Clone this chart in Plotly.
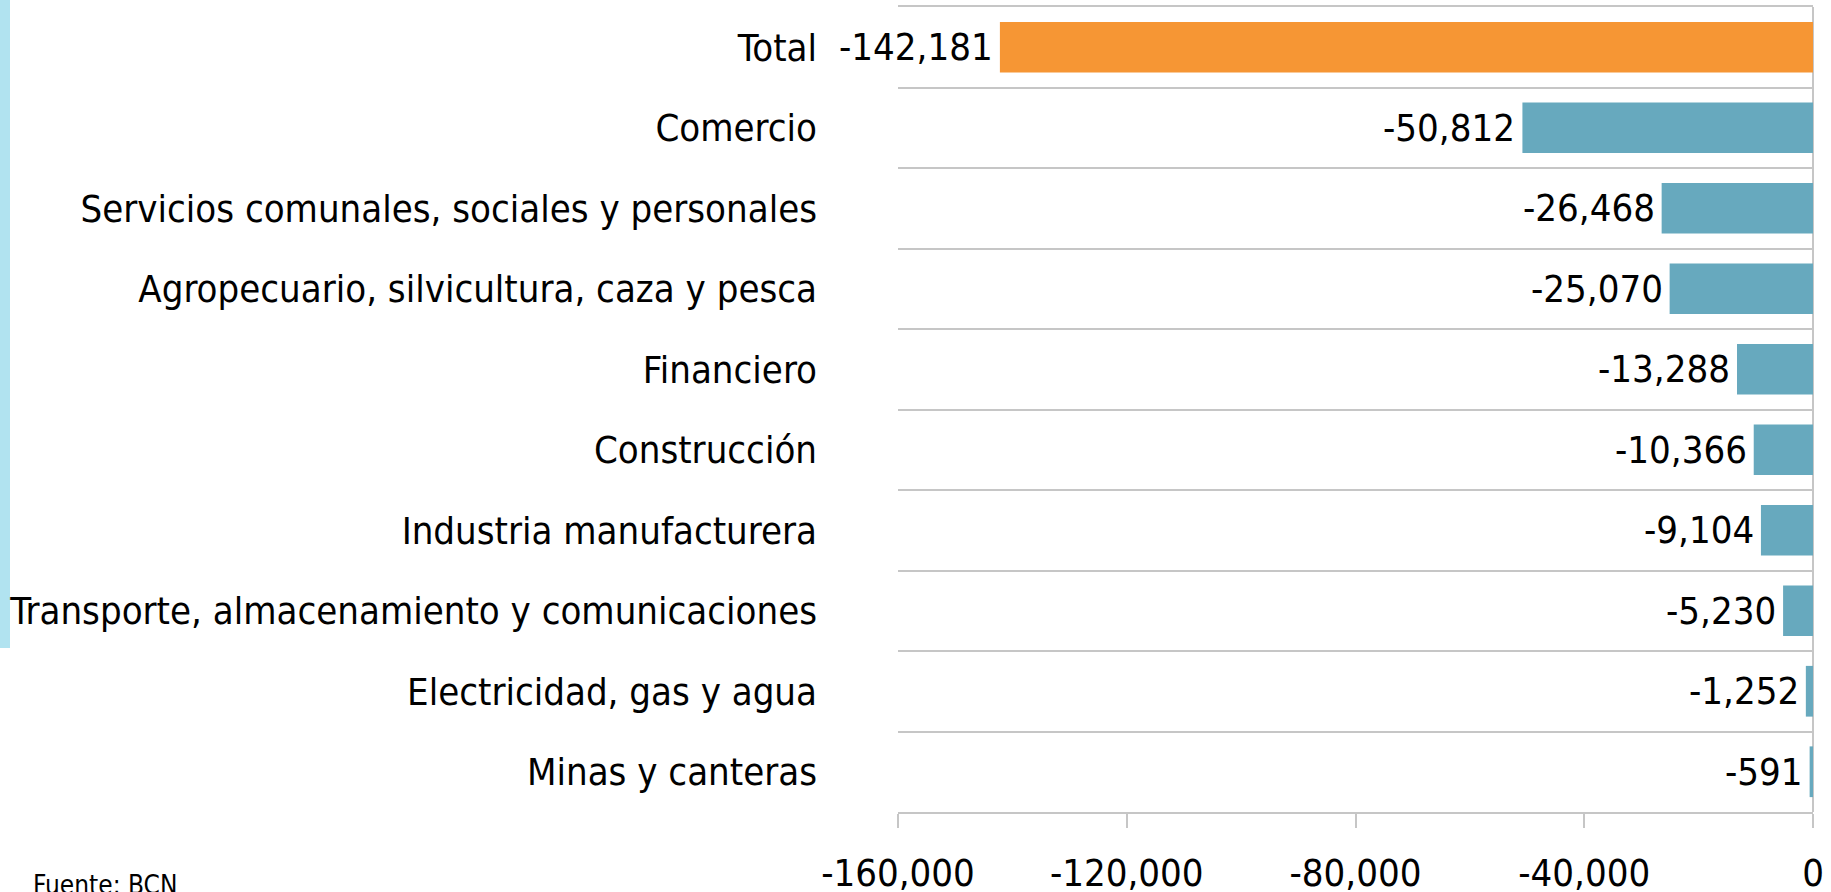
import plotly.graph_objects as go

# ---- data ----
categories = [
    "Total",
    "Comercio",
    "Servicios comunales, sociales y personales",
    "Agropecuario, silvicultura, caza y pesca",
    "Financiero",
    "Construcción",
    "Industria manufacturera",
    "Transporte, almacenamiento y comunicaciones",
    "Electricidad, gas y agua",
    "Minas y canteras",
]
values = [-142181, -50812, -26468, -25070, -13288, -10366, -9104, -5230, -1252, -591]
tick_values = [-160000, -120000, -80000, -40000, 0]
tick_labels = ["-160,000", "-120,000", "-80,000", "-40,000", "0"]
source_text = "Fuente: BCN"

# ---- styles ----
FONT = "DejaVu Sans Condensed, Liberation Sans Narrow, sans-serif"
ORANGE = "#F69634"
BLUE = "#67A9BE"
GRID = "#C6C6C6"
STRIP = "#B1E3F0"

W, H = 1831, 892
ML, MR, MT, MB = 898, 18, 7, 80
pw = W - ML - MR
ph = H - MT - MB

def px_x(p):
    return (p - ML) / pw

def px_y(p):
    return (H - MB - p) / ph

colors = [ORANGE] + [BLUE] * (len(values) - 1)

fig = go.Figure()
fig.add_trace(go.Bar(
    x=values,
    y=categories,
    orientation="h",
    marker=dict(color=colors, line=dict(width=0)),
    width=0.63,
    hoverinfo="x+y",
))

annotations = []
for c, v in zip(categories, values):
    annotations.append(dict(
        x=v, y=c, xref="x", yref="y",
        text=f"{v:,}",
        showarrow=False,
        xanchor="right", yanchor="middle",
        xshift=-5,
        font=dict(family=FONT, size=38, color="#000000"),
    ))
annotations.append(dict(
    x=px_x(31), y=px_y(868), xref="paper", yref="paper",
    text=source_text, showarrow=False,
    xanchor="left", yanchor="top",
    font=dict(family=FONT, size=26, color="#000000"),
))

fig.update_layout(
    width=W, height=H,
    margin=dict(l=ML, r=MR, t=MT, b=MB, pad=0),
    paper_bgcolor="white",
    plot_bgcolor="white",
    showlegend=False,
    font=dict(family=FONT, size=38, color="#000000"),
    annotations=annotations,
    shapes=[dict(
        type="rect", xref="paper", yref="paper",
        x0=px_x(0), x1=px_x(10), y0=px_y(648), y1=px_y(-5),
        fillcolor=STRIP, line=dict(width=0), layer="below",
    )],
    xaxis=dict(
        range=[-160000, 0],
        tickvals=tick_values,
        ticktext=tick_labels,
        showgrid=False,
        zeroline=True, zerolinecolor=GRID, zerolinewidth=2,
        showline=True, linecolor=GRID, linewidth=2, mirror=True,
        ticks="outside", ticklen=14, tickwidth=2, tickcolor=GRID,
        ticklabelstandoff=12,
        tickfont=dict(family=FONT, size=38, color="#000000"),
        automargin=False,
        fixedrange=True,
    ),
    yaxis=dict(
        autorange="reversed",
        showgrid=True, gridcolor=GRID, gridwidth=2,
        tickson="boundaries",
        ticks="", ticklabelstandoff=80,
        showline=False, zeroline=False,
        tickfont=dict(family=FONT, size=38, color="#000000"),
        automargin=False,
        fixedrange=True,
    ),
)

fig.write_html(
    "out.html",
    config={"displayModeBar": False},
    post_script="document.body.style.margin='0';document.body.style.overflow='hidden';",
)
